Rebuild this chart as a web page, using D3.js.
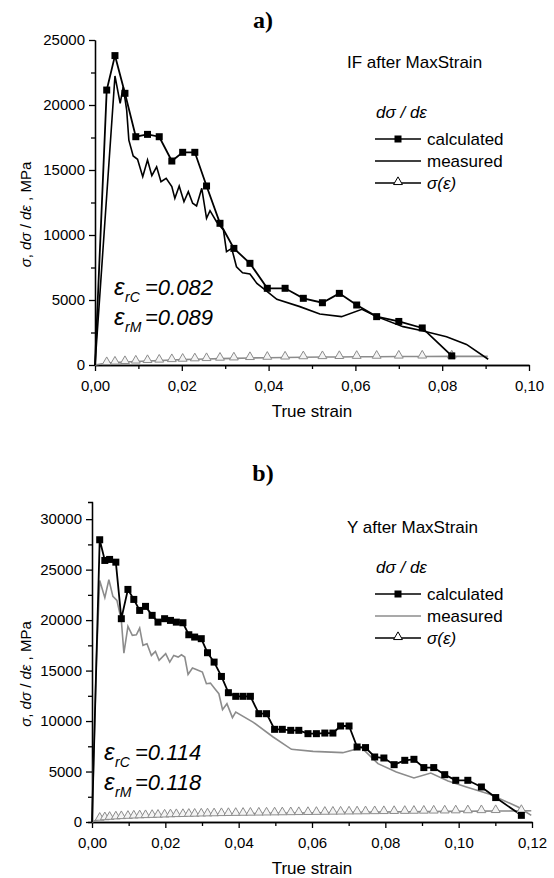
<!DOCTYPE html>
<meta charset="utf-8">
<style>
  body { margin: 0; background: #fff; }
  svg text { font-family: "Liberation Sans", Arial, sans-serif; }
</style>
<svg id="chart" width="554" height="878"></svg>

<script src="https://d3js.org/d3.v7.min.js"></script>
<script>

// ---- panel a) IF after MaxStrain ----
var aCalcStrain = [0, 0.0027, 0.0046, 0.0069, 0.0094, 0.0121, 0.0148, 0.0177, 0.0202, 0.0230, 0.0257, 0.0288,
  0.0320, 0.0357, 0.0397, 0.0438, 0.0480, 0.0524, 0.0563, 0.0603, 0.0649, 0.0700, 0.0754, 0.0822]
var aCalc = [0, 21150, 23800, 20900, 17560, 17740, 17560, 15690, 16360, 16360, 13770, 10900,
  8970, 7820, 5900, 5900, 5130, 4790, 5510, 4615, 3720, 3350, 2850, 700]
var aSigma = [0, 150, 190, 230, 270, 310, 340, 380, 410, 440, 460, 490,
  510, 540, 560, 580, 600, 610, 620, 630, 640, 650, 655, 660]
var aMeasStrain = [0, 0.0046, 0.0058, 0.0065, 0.0073, 0.0078, 0.0088, 0.0098, 0.0110, 0.0121, 0.0131, 0.0142,
  0.0152, 0.0164, 0.0177, 0.0184, 0.0194, 0.0205, 0.0215, 0.0225, 0.0234, 0.0246, 0.0257, 0.0265, 0.0280,
  0.0296, 0.0303, 0.0315, 0.0326, 0.0340, 0.0357, 0.0373, 0.0392, 0.0419, 0.0472, 0.0518, 0.0568, 0.0615,
  0.0649, 0.0710, 0.0754, 0.0810, 0.0856, 0.0906]
var aMeas = [0, 22230, 20130, 21400, 19600, 17300, 16080, 15820, 14490, 15770, 14560, 15250,
  14100, 14360, 13720, 12820, 13770, 12560, 13330, 12440, 12230, 13590, 11280, 11870, 11020,
  10380, 8720, 8970, 7560, 7100, 7000, 6280, 5770, 5050, 4490, 3920, 3720, 4280,
  3720, 2950, 2640, 2180, 1580, 440]
var aSigmaEnd = [0.0905, 665]

// ---- panel b) Y after MaxStrain ----
var bCalcStrain = [0, 0.0021, 0.0035, 0.0048, 0.0065, 0.0080, 0.0098, 0.0114, 0.0130, 0.0146, 0.0164, 0.0180,
  0.0198, 0.0214, 0.0230, 0.0248, 0.0264, 0.0280, 0.0298, 0.0315, 0.0333, 0.0353, 0.0372, 0.0392,
  0.0412, 0.0432, 0.0455, 0.0476, 0.0498, 0.0519, 0.0542, 0.0564, 0.0589, 0.0612, 0.0635, 0.0657,
  0.0678, 0.0701, 0.0723, 0.0746, 0.0771, 0.0796, 0.0824, 0.0853, 0.0878, 0.0905, 0.0932, 0.0962,
  0.0992, 0.1025, 0.1062, 0.1101, 0.1171]
var bCalc = [0, 27960, 25910, 26010, 25740, 20140, 23040, 22050, 20960, 21360, 20470, 19800,
  20140, 19970, 19800, 19740, 18550, 18320, 18160, 16770, 15840, 14420, 12810, 12450,
  12450, 12450, 10730, 10730, 9180, 9180, 9080, 9080, 8750, 8750, 8810, 8810,
  9510, 9510, 7430, 7370, 6440, 6340, 5680, 6110, 6210, 5390, 5390, 4690,
  4130, 4130, 3470, 2420, 660]
var bSigma = [0, 330, 380, 420, 460, 490, 520, 550, 570, 590, 610, 630,
  650, 670, 690, 700, 720, 730, 750, 760, 770, 790, 800, 810,
  820, 830, 840, 850, 860, 870, 880, 890, 900, 910, 920, 930,
  940, 950, 960, 970, 980, 990, 1000, 1010, 1020, 1030, 1040, 1050,
  1060, 1070, 1080, 1090, 1100]
var bMeasStrain = [0, 0.0012, 0.0021, 0.0035, 0.0046, 0.0057, 0.0068, 0.0080, 0.0087, 0.0098, 0.0110, 0.0121,
  0.0130, 0.0139, 0.0150, 0.0162, 0.0173, 0.0183, 0.0201, 0.0212, 0.0223, 0.0235, 0.0244, 0.0253,
  0.0262, 0.0274, 0.0286, 0.0301, 0.0312, 0.0323, 0.0335, 0.0346, 0.0356, 0.0368, 0.0383, 0.0392,
  0.0439, 0.0494, 0.0544, 0.0603, 0.0684, 0.0735, 0.0780, 0.0830, 0.0878, 0.0924, 0.0971, 0.1021,
  0.1085, 0.1121, 0.1162, 0.1198]
var bMeas = [0, 16000, 23930, 22220, 24000, 22350, 21950, 19970, 16730, 19380, 18490, 18550,
  19210, 17500, 17660, 16500, 16900, 16010, 16670, 15840, 16500, 16340, 16570, 16340,
  14620, 15250, 15090, 14850, 13700, 13760, 13210, 12710, 11130, 11720, 10340, 10890,
  9900, 8420, 7200, 7000, 6870, 7370, 5780, 4950, 4360, 4850, 4060, 3470,
  2740, 2150, 1490, 660]
var bSigmaEnd = [0.1198, 1110]

var xTicksA = [0, 0.02, 0.04, 0.06, 0.08, 0.10]
var xTicksB = [0, 0.02, 0.04, 0.06, 0.08, 0.10, 0.12]
var yTicksA = [0, 5000, 10000, 15000, 20000, 25000]
var yTicksB = [0, 5000, 10000, 15000, 20000, 25000, 30000]

var svg = d3.select('#chart')

function zip(xs, ys) {
  return xs.map(function(x, i) { return [x, ys[i]] })
}

function drawPanel(p) {
  var x = d3.scaleLinear().domain(p.xDomain).range([p.left, p.right])
  var y = d3.scaleLinear().domain(p.yDomain).range([p.bottom, p.top])
  var g = svg.append('g')

  // title a) / b)
  g.append('text')
    .attr('x', 263).attr('y', p.titleY)
    .attr('text-anchor', 'middle')
    .style('font-family', '"Liberation Serif", "Times New Roman", serif')
    .style('font-weight', 'bold')
    .style('font-size', '24px')
    .text(p.title)

  // axes with minor ticks
  var xAxis = d3.axisBottom(x).tickValues(p.xTicks).tickSize(6).tickSizeOuter(0)
    .tickFormat(function(d) { return d3.format('.2f')(d).replace('.', ',') })
  var xMinor = d3.axisBottom(x).tickValues(p.xMinor).tickSize(4).tickFormat('').tickSizeOuter(0)
  var yAxis = d3.axisLeft(y).tickValues(p.yTicks).tickSize(6).tickSizeOuter(p.outer)
    .tickFormat(d3.format('d'))
  var yMinor = d3.axisLeft(y).tickValues(p.yMinor).tickSize(4).tickFormat('').tickSizeOuter(0)

  var gx = g.append('g').attr('transform', 'translate(0,' + p.bottom + ')').call(xAxis)
  g.append('g').attr('transform', 'translate(0,' + p.bottom + ')').call(xMinor)
  var gy = g.append('g').attr('transform', 'translate(' + p.left + ',0)').call(yAxis)
  g.append('g').attr('transform', 'translate(' + p.left + ',0)').call(yMinor)
  g.selectAll('.domain, .tick line').attr('stroke', '#000').attr('stroke-width', 1.3)
  gx.selectAll('.tick text').style('font-size', '15px').attr('dy', '1.1em')
  gy.selectAll('.tick text').style('font-size', '15px').attr('dx', '-1px')
  g.selectAll('text').attr('fill', '#000')

  // axis titles
  g.append('text')
    .attr('x', (p.left + p.right) / 2).attr('y', p.bottom + 52)
    .attr('text-anchor', 'middle').style('font-size', '17px')
    .text('True strain')

  var yt = g.append('text')
    .attr('transform', 'translate(' + 31 + ',' + ((p.top + p.bottom) / 2 + 12) + ') rotate(-90)')
    .attr('text-anchor', 'middle').style('font-size', '15px')
  yt.append('tspan').style('font-style', 'italic').text('σ')
  yt.append('tspan').text(', ')
  yt.append('tspan').style('font-style', 'italic').text('dσ')
  yt.append('tspan').text(' / ')
  yt.append('tspan').style('font-style', 'italic').text('dε')
  yt.append('tspan').text(' , MPa')

  var line = d3.line().x(function(d) { return x(d[0]) }).y(function(d) { return y(d[1]) })

  // sigma(eps) curve
  var sig = zip(p.calcStrain, p.sigma)
  g.append('path').datum(sig.concat([p.sigmaEnd]))
    .attr('d', line).attr('fill', 'none').attr('stroke', '#8c8c8c').attr('stroke-width', 1.6)

  // measured
  g.append('path').datum(zip(p.measStrain, p.meas))
    .attr('d', line).attr('fill', 'none').attr('stroke', p.measColor).attr('stroke-width', 1.6)

  // calculated
  var calc = zip(p.calcStrain, p.calc)
  g.append('path').datum(calc)
    .attr('d', line).attr('fill', 'none').attr('stroke', '#000').attr('stroke-width', 1.8)

  var tri = d3.symbol().type(d3.symbolTriangle).size(34)
  g.selectAll('.tri').data(sig.slice(1)).enter().append('path')
    .attr('d', tri)
    .attr('transform', function(d) { return 'translate(' + x(d[0]) + ',' + (y(d[1]) - 1) + ')' })
    .attr('fill', '#f4f4f4').attr('stroke', '#8c8c8c').attr('stroke-width', 1)

  g.selectAll('.sq').data(calc.slice(1)).enter().append('rect')
    .attr('x', function(d) { return x(d[0]) - 3.5 })
    .attr('y', function(d) { return y(d[1]) - 3.5 })
    .attr('width', 7).attr('height', 7).attr('fill', '#000')

  // annotations
  function eps(ly, sub, val) {
    g.append('text').attr('x', p.annX).attr('y', ly)
      .style('font-style', 'italic').style('font-size', '24px').text('ε')
    g.append('text').attr('x', p.annX + 11).attr('y', ly + 7)
      .style('font-style', 'italic').style('font-size', '14px').text(sub)
    g.append('text').attr('x', p.annX + 31).attr('y', ly)
      .style('font-style', 'italic').style('font-size', '22px').text(val)
  }
  eps(p.annY, 'rC', p.annC)
  eps(p.annY + 30, 'rM', p.annM)

  // legend
  var lx0 = 375, lx1 = 421
  g.append('text').attr('x', 347).attr('y', p.legY).style('font-size', '17px').text(p.legTitle)
  var ly0 = p.legY + p.legGap
  var lt = g.append('text').attr('x', 376).attr('y', ly0 + 50)
    .style('font-style', 'italic').style('font-size', '17px')
  lt.append('tspan').text('dσ / dε')

  var rows = [
    { label: 'calculated', color: '#000', mark: 'sq' },
    { label: 'measured', color: p.measColor, mark: null },
    { label: 'σ(ε)', color: '#000', mark: 'tri' }
  ]
  rows.forEach(function(r, i) {
    var ry = ly0 + 71 + i * 22
    g.append('line').attr('x1', lx0).attr('x2', lx1).attr('y1', ry).attr('y2', ry)
      .attr('stroke', r.color).attr('stroke-width', 1.6)
    if (r.mark === 'sq') {
      g.append('rect').attr('x', 394.5).attr('y', ry - 3.5).attr('width', 7).attr('height', 7).attr('fill', '#000')
    } else if (r.mark === 'tri') {
      g.append('path').attr('d', tri).attr('transform', 'translate(398,' + (ry - 1) + ')')
        .attr('fill', '#fff').attr('stroke', '#000').attr('stroke-width', 1)
    }
    var t = g.append('text').attr('x', 427).attr('y', ry + 6).style('font-size', '17px')
    if (r.mark === 'tri') {
      t.style('font-style', 'italic')
    }
    t.text(r.label)
  })
}

drawPanel({
  title: 'a)', titleY: 28,
  left: 95, right: 529, top: 40, bottom: 365,
  xDomain: [0, 0.10], yDomain: [0, 25000],
  xTicks: xTicksA, xMinor: [0.01, 0.03, 0.05, 0.07, 0.09],
  yTicks: yTicksA, yMinor: [2500, 7500, 12500, 17500, 22500], outer: 0,
  calcStrain: aCalcStrain, calc: aCalc, sigma: aSigma, sigmaEnd: aSigmaEnd,
  measStrain: aMeasStrain, meas: aMeas, measColor: '#000',
  annX: 114, annY: 295, annC: '=0.082', annM: '=0.089',
  legY: 68, legGap: 0, legTitle: 'IF after MaxStrain'
})

drawPanel({
  title: 'b)', titleY: 481,
  left: 92, right: 532, top: 502, bottom: 822,
  xDomain: [0, 0.12], yDomain: [0, 31700],
  xTicks: xTicksB, xMinor: [0.01, 0.03, 0.05, 0.07, 0.09, 0.11],
  yTicks: yTicksB, yMinor: [2500, 7500, 12500, 17500, 22500, 27500], outer: 4,
  calcStrain: bCalcStrain, calc: bCalc, sigma: bSigma, sigmaEnd: bSigmaEnd,
  measStrain: bMeasStrain, meas: bMeas, measColor: '#8c8c8c',
  annX: 104, annY: 760, annC: '=0.114', annM: '=0.118',
  legY: 533, legGap: -10, legTitle: 'Y after MaxStrain'
})

</script>
